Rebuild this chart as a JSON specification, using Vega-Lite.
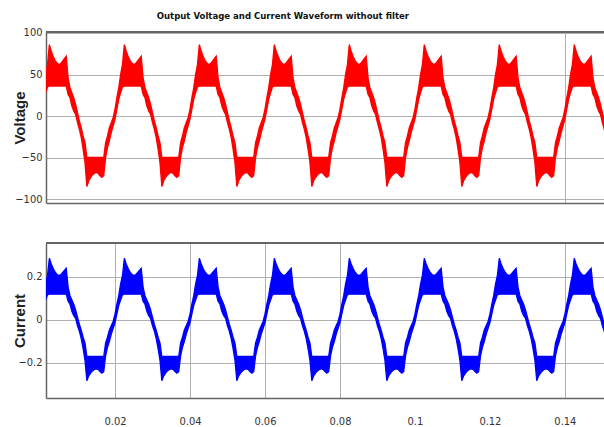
{
"$schema": "https://vega.github.io/schema/vega-lite/v6.json",
"background": "white",
"padding": {"left": 12, "top": 11, "right": 0, "bottom": 0},
"title": {"text": "Output Voltage and Current Waveform without filter", "font": "DejaVu Sans Condensed, Liberation Sans, sans-serif", "fontSize": 9.5, "fontWeight": "bold", "color": "#111", "offset": 6, "anchor": "middle", "dx": -26},
"config": {
  "view": {"stroke": null},
  "axis": {"labelFont": "DejaVu Sans Condensed, Liberation Sans, sans-serif", "labelFontSize": 11, "labelColor": "#333", "ticks": false, "domainColor": "#666", "domainWidth": 1.5, "gridColor": "#b0b0b0", "gridWidth": 1, "format": "~f"}
},
"spacing": 37,
"datasets": {"w": [
{"t":0.0015,"vl":28,"vh":50,"il":0.093,"ih":0.167},
{"t":0.002,"vl":35,"vh":62,"il":0.117,"ih":0.207},
{"t":0.0025,"vl":36,"vh":86,"il":0.12,"ih":0.287},
{"t":0.003,"vl":36,"vh":78,"il":0.12,"ih":0.26},
{"t":0.0035,"vl":36,"vh":72,"il":0.12,"ih":0.24},
{"t":0.004,"vl":36,"vh":67,"il":0.12,"ih":0.223},
{"t":0.0045,"vl":36,"vh":64,"il":0.12,"ih":0.213},
{"t":0.005,"vl":36,"vh":62,"il":0.12,"ih":0.207},
{"t":0.0055,"vl":36,"vh":63,"il":0.12,"ih":0.21},
{"t":0.006,"vl":36,"vh":66,"il":0.12,"ih":0.22},
{"t":0.0065,"vl":36,"vh":69,"il":0.12,"ih":0.23},
{"t":0.007,"vl":36,"vh":72,"il":0.12,"ih":0.24},
{"t":0.0075,"vl":26,"vh":46,"il":0.087,"ih":0.153},
{"t":0.008,"vl":22,"vh":34,"il":0.073,"ih":0.113},
{"t":0.0085,"vl":12,"vh":28,"il":0.04,"ih":0.093},
{"t":0.009,"vl":6,"vh":22,"il":0.02,"ih":0.073},
{"t":0.0095,"vl":2,"vh":14,"il":0.007,"ih":0.047},
{"t":0.01,"vl":-8,"vh":4,"il":-0.027,"ih":0.013},
{"t":0.0105,"vl":-16,"vh":-6,"il":-0.053,"ih":-0.02},
{"t":0.011,"vl":-26,"vh":-14,"il":-0.087,"ih":-0.047},
{"t":0.0115,"vl":-40,"vh":-24,"il":-0.133,"ih":-0.08},
{"t":0.012,"vl":-56,"vh":-32,"il":-0.187,"ih":-0.107},
{"t":0.0125,"vl":-85,"vh":-50,"il":-0.283,"ih":-0.17},
{"t":0.013,"vl":-78,"vh":-50,"il":-0.26,"ih":-0.17},
{"t":0.0135,"vl":-74,"vh":-50,"il":-0.247,"ih":-0.17},
{"t":0.014,"vl":-71,"vh":-50,"il":-0.237,"ih":-0.17},
{"t":0.0145,"vl":-69,"vh":-50,"il":-0.23,"ih":-0.17},
{"t":0.015,"vl":-68,"vh":-50,"il":-0.227,"ih":-0.17},
{"t":0.0155,"vl":-69,"vh":-50,"il":-0.23,"ih":-0.17},
{"t":0.016,"vl":-72,"vh":-50,"il":-0.24,"ih":-0.17},
{"t":0.0165,"vl":-74,"vh":-50,"il":-0.247,"ih":-0.17},
{"t":0.017,"vl":-72,"vh":-50,"il":-0.24,"ih":-0.17},
{"t":0.0175,"vl":-50,"vh":-32,"il":-0.167,"ih":-0.107},
{"t":0.018,"vl":-38,"vh":-24,"il":-0.127,"ih":-0.08},
{"t":0.0185,"vl":-30,"vh":-14,"il":-0.1,"ih":-0.047},
{"t":0.019,"vl":-20,"vh":-8,"il":-0.067,"ih":-0.027},
{"t":0.0195,"vl":-12,"vh":-2,"il":-0.04,"ih":-0.007},
{"t":0.02,"vl":-4,"vh":8,"il":-0.013,"ih":0.027},
{"t":0.0205,"vl":8,"vh":22,"il":0.027,"ih":0.073},
{"t":0.021,"vl":20,"vh":34,"il":0.067,"ih":0.113},
{"t":0.0215,"vl":28,"vh":50,"il":0.093,"ih":0.167},
{"t":0.022,"vl":35,"vh":62,"il":0.117,"ih":0.207},
{"t":0.0225,"vl":36,"vh":86,"il":0.12,"ih":0.287},
{"t":0.023,"vl":36,"vh":78,"il":0.12,"ih":0.26},
{"t":0.0235,"vl":36,"vh":72,"il":0.12,"ih":0.24},
{"t":0.024,"vl":36,"vh":67,"il":0.12,"ih":0.223},
{"t":0.0245,"vl":36,"vh":64,"il":0.12,"ih":0.213},
{"t":0.025,"vl":36,"vh":62,"il":0.12,"ih":0.207},
{"t":0.0255,"vl":36,"vh":63,"il":0.12,"ih":0.21},
{"t":0.026,"vl":36,"vh":66,"il":0.12,"ih":0.22},
{"t":0.0265,"vl":36,"vh":69,"il":0.12,"ih":0.23},
{"t":0.027,"vl":36,"vh":72,"il":0.12,"ih":0.24},
{"t":0.0275,"vl":26,"vh":46,"il":0.087,"ih":0.153},
{"t":0.028,"vl":22,"vh":34,"il":0.073,"ih":0.113},
{"t":0.0285,"vl":12,"vh":28,"il":0.04,"ih":0.093},
{"t":0.029,"vl":6,"vh":22,"il":0.02,"ih":0.073},
{"t":0.0295,"vl":2,"vh":14,"il":0.007,"ih":0.047},
{"t":0.03,"vl":-8,"vh":4,"il":-0.027,"ih":0.013},
{"t":0.0305,"vl":-16,"vh":-6,"il":-0.053,"ih":-0.02},
{"t":0.031,"vl":-26,"vh":-14,"il":-0.087,"ih":-0.047},
{"t":0.0315,"vl":-40,"vh":-24,"il":-0.133,"ih":-0.08},
{"t":0.032,"vl":-56,"vh":-32,"il":-0.187,"ih":-0.107},
{"t":0.0325,"vl":-85,"vh":-50,"il":-0.283,"ih":-0.17},
{"t":0.033,"vl":-78,"vh":-50,"il":-0.26,"ih":-0.17},
{"t":0.0335,"vl":-74,"vh":-50,"il":-0.247,"ih":-0.17},
{"t":0.034,"vl":-71,"vh":-50,"il":-0.237,"ih":-0.17},
{"t":0.0345,"vl":-69,"vh":-50,"il":-0.23,"ih":-0.17},
{"t":0.035,"vl":-68,"vh":-50,"il":-0.227,"ih":-0.17},
{"t":0.0355,"vl":-69,"vh":-50,"il":-0.23,"ih":-0.17},
{"t":0.036,"vl":-72,"vh":-50,"il":-0.24,"ih":-0.17},
{"t":0.0365,"vl":-74,"vh":-50,"il":-0.247,"ih":-0.17},
{"t":0.037,"vl":-72,"vh":-50,"il":-0.24,"ih":-0.17},
{"t":0.0375,"vl":-50,"vh":-32,"il":-0.167,"ih":-0.107},
{"t":0.038,"vl":-38,"vh":-24,"il":-0.127,"ih":-0.08},
{"t":0.0385,"vl":-30,"vh":-14,"il":-0.1,"ih":-0.047},
{"t":0.039,"vl":-20,"vh":-8,"il":-0.067,"ih":-0.027},
{"t":0.0395,"vl":-12,"vh":-2,"il":-0.04,"ih":-0.007},
{"t":0.04,"vl":-4,"vh":8,"il":-0.013,"ih":0.027},
{"t":0.0405,"vl":8,"vh":22,"il":0.027,"ih":0.073},
{"t":0.041,"vl":20,"vh":34,"il":0.067,"ih":0.113},
{"t":0.0415,"vl":28,"vh":50,"il":0.093,"ih":0.167},
{"t":0.042,"vl":35,"vh":62,"il":0.117,"ih":0.207},
{"t":0.0425,"vl":36,"vh":86,"il":0.12,"ih":0.287},
{"t":0.043,"vl":36,"vh":78,"il":0.12,"ih":0.26},
{"t":0.0435,"vl":36,"vh":72,"il":0.12,"ih":0.24},
{"t":0.044,"vl":36,"vh":67,"il":0.12,"ih":0.223},
{"t":0.0445,"vl":36,"vh":64,"il":0.12,"ih":0.213},
{"t":0.045,"vl":36,"vh":62,"il":0.12,"ih":0.207},
{"t":0.0455,"vl":36,"vh":63,"il":0.12,"ih":0.21},
{"t":0.046,"vl":36,"vh":66,"il":0.12,"ih":0.22},
{"t":0.0465,"vl":36,"vh":69,"il":0.12,"ih":0.23},
{"t":0.047,"vl":36,"vh":72,"il":0.12,"ih":0.24},
{"t":0.0475,"vl":26,"vh":46,"il":0.087,"ih":0.153},
{"t":0.048,"vl":22,"vh":34,"il":0.073,"ih":0.113},
{"t":0.0485,"vl":12,"vh":28,"il":0.04,"ih":0.093},
{"t":0.049,"vl":6,"vh":22,"il":0.02,"ih":0.073},
{"t":0.0495,"vl":2,"vh":14,"il":0.007,"ih":0.047},
{"t":0.05,"vl":-8,"vh":4,"il":-0.027,"ih":0.013},
{"t":0.0505,"vl":-16,"vh":-6,"il":-0.053,"ih":-0.02},
{"t":0.051,"vl":-26,"vh":-14,"il":-0.087,"ih":-0.047},
{"t":0.0515,"vl":-40,"vh":-24,"il":-0.133,"ih":-0.08},
{"t":0.052,"vl":-56,"vh":-32,"il":-0.187,"ih":-0.107},
{"t":0.0525,"vl":-85,"vh":-50,"il":-0.283,"ih":-0.17},
{"t":0.053,"vl":-78,"vh":-50,"il":-0.26,"ih":-0.17},
{"t":0.0535,"vl":-74,"vh":-50,"il":-0.247,"ih":-0.17},
{"t":0.054,"vl":-71,"vh":-50,"il":-0.237,"ih":-0.17},
{"t":0.0545,"vl":-69,"vh":-50,"il":-0.23,"ih":-0.17},
{"t":0.055,"vl":-68,"vh":-50,"il":-0.227,"ih":-0.17},
{"t":0.0555,"vl":-69,"vh":-50,"il":-0.23,"ih":-0.17},
{"t":0.056,"vl":-72,"vh":-50,"il":-0.24,"ih":-0.17},
{"t":0.0565,"vl":-74,"vh":-50,"il":-0.247,"ih":-0.17},
{"t":0.057,"vl":-72,"vh":-50,"il":-0.24,"ih":-0.17},
{"t":0.0575,"vl":-50,"vh":-32,"il":-0.167,"ih":-0.107},
{"t":0.058,"vl":-38,"vh":-24,"il":-0.127,"ih":-0.08},
{"t":0.0585,"vl":-30,"vh":-14,"il":-0.1,"ih":-0.047},
{"t":0.059,"vl":-20,"vh":-8,"il":-0.067,"ih":-0.027},
{"t":0.0595,"vl":-12,"vh":-2,"il":-0.04,"ih":-0.007},
{"t":0.06,"vl":-4,"vh":8,"il":-0.013,"ih":0.027},
{"t":0.0605,"vl":8,"vh":22,"il":0.027,"ih":0.073},
{"t":0.061,"vl":20,"vh":34,"il":0.067,"ih":0.113},
{"t":0.0615,"vl":28,"vh":50,"il":0.093,"ih":0.167},
{"t":0.062,"vl":35,"vh":62,"il":0.117,"ih":0.207},
{"t":0.0625,"vl":36,"vh":86,"il":0.12,"ih":0.287},
{"t":0.063,"vl":36,"vh":78,"il":0.12,"ih":0.26},
{"t":0.0635,"vl":36,"vh":72,"il":0.12,"ih":0.24},
{"t":0.064,"vl":36,"vh":67,"il":0.12,"ih":0.223},
{"t":0.0645,"vl":36,"vh":64,"il":0.12,"ih":0.213},
{"t":0.065,"vl":36,"vh":62,"il":0.12,"ih":0.207},
{"t":0.0655,"vl":36,"vh":63,"il":0.12,"ih":0.21},
{"t":0.066,"vl":36,"vh":66,"il":0.12,"ih":0.22},
{"t":0.0665,"vl":36,"vh":69,"il":0.12,"ih":0.23},
{"t":0.067,"vl":36,"vh":72,"il":0.12,"ih":0.24},
{"t":0.0675,"vl":26,"vh":46,"il":0.087,"ih":0.153},
{"t":0.068,"vl":22,"vh":34,"il":0.073,"ih":0.113},
{"t":0.0685,"vl":12,"vh":28,"il":0.04,"ih":0.093},
{"t":0.069,"vl":6,"vh":22,"il":0.02,"ih":0.073},
{"t":0.0695,"vl":2,"vh":14,"il":0.007,"ih":0.047},
{"t":0.07,"vl":-8,"vh":4,"il":-0.027,"ih":0.013},
{"t":0.0705,"vl":-16,"vh":-6,"il":-0.053,"ih":-0.02},
{"t":0.071,"vl":-26,"vh":-14,"il":-0.087,"ih":-0.047},
{"t":0.0715,"vl":-40,"vh":-24,"il":-0.133,"ih":-0.08},
{"t":0.072,"vl":-56,"vh":-32,"il":-0.187,"ih":-0.107},
{"t":0.0725,"vl":-85,"vh":-50,"il":-0.283,"ih":-0.17},
{"t":0.073,"vl":-78,"vh":-50,"il":-0.26,"ih":-0.17},
{"t":0.0735,"vl":-74,"vh":-50,"il":-0.247,"ih":-0.17},
{"t":0.074,"vl":-71,"vh":-50,"il":-0.237,"ih":-0.17},
{"t":0.0745,"vl":-69,"vh":-50,"il":-0.23,"ih":-0.17},
{"t":0.075,"vl":-68,"vh":-50,"il":-0.227,"ih":-0.17},
{"t":0.0755,"vl":-69,"vh":-50,"il":-0.23,"ih":-0.17},
{"t":0.076,"vl":-72,"vh":-50,"il":-0.24,"ih":-0.17},
{"t":0.0765,"vl":-74,"vh":-50,"il":-0.247,"ih":-0.17},
{"t":0.077,"vl":-72,"vh":-50,"il":-0.24,"ih":-0.17},
{"t":0.0775,"vl":-50,"vh":-32,"il":-0.167,"ih":-0.107},
{"t":0.078,"vl":-38,"vh":-24,"il":-0.127,"ih":-0.08},
{"t":0.0785,"vl":-30,"vh":-14,"il":-0.1,"ih":-0.047},
{"t":0.079,"vl":-20,"vh":-8,"il":-0.067,"ih":-0.027},
{"t":0.0795,"vl":-12,"vh":-2,"il":-0.04,"ih":-0.007},
{"t":0.08,"vl":-4,"vh":8,"il":-0.013,"ih":0.027},
{"t":0.0805,"vl":8,"vh":22,"il":0.027,"ih":0.073},
{"t":0.081,"vl":20,"vh":34,"il":0.067,"ih":0.113},
{"t":0.0815,"vl":28,"vh":50,"il":0.093,"ih":0.167},
{"t":0.082,"vl":35,"vh":62,"il":0.117,"ih":0.207},
{"t":0.0825,"vl":36,"vh":86,"il":0.12,"ih":0.287},
{"t":0.083,"vl":36,"vh":78,"il":0.12,"ih":0.26},
{"t":0.0835,"vl":36,"vh":72,"il":0.12,"ih":0.24},
{"t":0.084,"vl":36,"vh":67,"il":0.12,"ih":0.223},
{"t":0.0845,"vl":36,"vh":64,"il":0.12,"ih":0.213},
{"t":0.085,"vl":36,"vh":62,"il":0.12,"ih":0.207},
{"t":0.0855,"vl":36,"vh":63,"il":0.12,"ih":0.21},
{"t":0.086,"vl":36,"vh":66,"il":0.12,"ih":0.22},
{"t":0.0865,"vl":36,"vh":69,"il":0.12,"ih":0.23},
{"t":0.087,"vl":36,"vh":72,"il":0.12,"ih":0.24},
{"t":0.0875,"vl":26,"vh":46,"il":0.087,"ih":0.153},
{"t":0.088,"vl":22,"vh":34,"il":0.073,"ih":0.113},
{"t":0.0885,"vl":12,"vh":28,"il":0.04,"ih":0.093},
{"t":0.089,"vl":6,"vh":22,"il":0.02,"ih":0.073},
{"t":0.0895,"vl":2,"vh":14,"il":0.007,"ih":0.047},
{"t":0.09,"vl":-8,"vh":4,"il":-0.027,"ih":0.013},
{"t":0.0905,"vl":-16,"vh":-6,"il":-0.053,"ih":-0.02},
{"t":0.091,"vl":-26,"vh":-14,"il":-0.087,"ih":-0.047},
{"t":0.0915,"vl":-40,"vh":-24,"il":-0.133,"ih":-0.08},
{"t":0.092,"vl":-56,"vh":-32,"il":-0.187,"ih":-0.107},
{"t":0.0925,"vl":-85,"vh":-50,"il":-0.283,"ih":-0.17},
{"t":0.093,"vl":-78,"vh":-50,"il":-0.26,"ih":-0.17},
{"t":0.0935,"vl":-74,"vh":-50,"il":-0.247,"ih":-0.17},
{"t":0.094,"vl":-71,"vh":-50,"il":-0.237,"ih":-0.17},
{"t":0.0945,"vl":-69,"vh":-50,"il":-0.23,"ih":-0.17},
{"t":0.095,"vl":-68,"vh":-50,"il":-0.227,"ih":-0.17},
{"t":0.0955,"vl":-69,"vh":-50,"il":-0.23,"ih":-0.17},
{"t":0.096,"vl":-72,"vh":-50,"il":-0.24,"ih":-0.17},
{"t":0.0965,"vl":-74,"vh":-50,"il":-0.247,"ih":-0.17},
{"t":0.097,"vl":-72,"vh":-50,"il":-0.24,"ih":-0.17},
{"t":0.0975,"vl":-50,"vh":-32,"il":-0.167,"ih":-0.107},
{"t":0.098,"vl":-38,"vh":-24,"il":-0.127,"ih":-0.08},
{"t":0.0985,"vl":-30,"vh":-14,"il":-0.1,"ih":-0.047},
{"t":0.099,"vl":-20,"vh":-8,"il":-0.067,"ih":-0.027},
{"t":0.0995,"vl":-12,"vh":-2,"il":-0.04,"ih":-0.007},
{"t":0.1,"vl":-4,"vh":8,"il":-0.013,"ih":0.027},
{"t":0.1005,"vl":8,"vh":22,"il":0.027,"ih":0.073},
{"t":0.101,"vl":20,"vh":34,"il":0.067,"ih":0.113},
{"t":0.1015,"vl":28,"vh":50,"il":0.093,"ih":0.167},
{"t":0.102,"vl":35,"vh":62,"il":0.117,"ih":0.207},
{"t":0.1025,"vl":36,"vh":86,"il":0.12,"ih":0.287},
{"t":0.103,"vl":36,"vh":78,"il":0.12,"ih":0.26},
{"t":0.1035,"vl":36,"vh":72,"il":0.12,"ih":0.24},
{"t":0.104,"vl":36,"vh":67,"il":0.12,"ih":0.223},
{"t":0.1045,"vl":36,"vh":64,"il":0.12,"ih":0.213},
{"t":0.105,"vl":36,"vh":62,"il":0.12,"ih":0.207},
{"t":0.1055,"vl":36,"vh":63,"il":0.12,"ih":0.21},
{"t":0.106,"vl":36,"vh":66,"il":0.12,"ih":0.22},
{"t":0.1065,"vl":36,"vh":69,"il":0.12,"ih":0.23},
{"t":0.107,"vl":36,"vh":72,"il":0.12,"ih":0.24},
{"t":0.1075,"vl":26,"vh":46,"il":0.087,"ih":0.153},
{"t":0.108,"vl":22,"vh":34,"il":0.073,"ih":0.113},
{"t":0.1085,"vl":12,"vh":28,"il":0.04,"ih":0.093},
{"t":0.109,"vl":6,"vh":22,"il":0.02,"ih":0.073},
{"t":0.1095,"vl":2,"vh":14,"il":0.007,"ih":0.047},
{"t":0.11,"vl":-8,"vh":4,"il":-0.027,"ih":0.013},
{"t":0.1105,"vl":-16,"vh":-6,"il":-0.053,"ih":-0.02},
{"t":0.111,"vl":-26,"vh":-14,"il":-0.087,"ih":-0.047},
{"t":0.1115,"vl":-40,"vh":-24,"il":-0.133,"ih":-0.08},
{"t":0.112,"vl":-56,"vh":-32,"il":-0.187,"ih":-0.107},
{"t":0.1125,"vl":-85,"vh":-50,"il":-0.283,"ih":-0.17},
{"t":0.113,"vl":-78,"vh":-50,"il":-0.26,"ih":-0.17},
{"t":0.1135,"vl":-74,"vh":-50,"il":-0.247,"ih":-0.17},
{"t":0.114,"vl":-71,"vh":-50,"il":-0.237,"ih":-0.17},
{"t":0.1145,"vl":-69,"vh":-50,"il":-0.23,"ih":-0.17},
{"t":0.115,"vl":-68,"vh":-50,"il":-0.227,"ih":-0.17},
{"t":0.1155,"vl":-69,"vh":-50,"il":-0.23,"ih":-0.17},
{"t":0.116,"vl":-72,"vh":-50,"il":-0.24,"ih":-0.17},
{"t":0.1165,"vl":-74,"vh":-50,"il":-0.247,"ih":-0.17},
{"t":0.117,"vl":-72,"vh":-50,"il":-0.24,"ih":-0.17},
{"t":0.1175,"vl":-50,"vh":-32,"il":-0.167,"ih":-0.107},
{"t":0.118,"vl":-38,"vh":-24,"il":-0.127,"ih":-0.08},
{"t":0.1185,"vl":-30,"vh":-14,"il":-0.1,"ih":-0.047},
{"t":0.119,"vl":-20,"vh":-8,"il":-0.067,"ih":-0.027},
{"t":0.1195,"vl":-12,"vh":-2,"il":-0.04,"ih":-0.007},
{"t":0.12,"vl":-4,"vh":8,"il":-0.013,"ih":0.027},
{"t":0.1205,"vl":8,"vh":22,"il":0.027,"ih":0.073},
{"t":0.121,"vl":20,"vh":34,"il":0.067,"ih":0.113},
{"t":0.1215,"vl":28,"vh":50,"il":0.093,"ih":0.167},
{"t":0.122,"vl":35,"vh":62,"il":0.117,"ih":0.207},
{"t":0.1225,"vl":36,"vh":86,"il":0.12,"ih":0.287},
{"t":0.123,"vl":36,"vh":78,"il":0.12,"ih":0.26},
{"t":0.1235,"vl":36,"vh":72,"il":0.12,"ih":0.24},
{"t":0.124,"vl":36,"vh":67,"il":0.12,"ih":0.223},
{"t":0.1245,"vl":36,"vh":64,"il":0.12,"ih":0.213},
{"t":0.125,"vl":36,"vh":62,"il":0.12,"ih":0.207},
{"t":0.1255,"vl":36,"vh":63,"il":0.12,"ih":0.21},
{"t":0.126,"vl":36,"vh":66,"il":0.12,"ih":0.22},
{"t":0.1265,"vl":36,"vh":69,"il":0.12,"ih":0.23},
{"t":0.127,"vl":36,"vh":72,"il":0.12,"ih":0.24},
{"t":0.1275,"vl":26,"vh":46,"il":0.087,"ih":0.153},
{"t":0.128,"vl":22,"vh":34,"il":0.073,"ih":0.113},
{"t":0.1285,"vl":12,"vh":28,"il":0.04,"ih":0.093},
{"t":0.129,"vl":6,"vh":22,"il":0.02,"ih":0.073},
{"t":0.1295,"vl":2,"vh":14,"il":0.007,"ih":0.047},
{"t":0.13,"vl":-8,"vh":4,"il":-0.027,"ih":0.013},
{"t":0.1305,"vl":-16,"vh":-6,"il":-0.053,"ih":-0.02},
{"t":0.131,"vl":-26,"vh":-14,"il":-0.087,"ih":-0.047},
{"t":0.1315,"vl":-40,"vh":-24,"il":-0.133,"ih":-0.08},
{"t":0.132,"vl":-56,"vh":-32,"il":-0.187,"ih":-0.107},
{"t":0.1325,"vl":-85,"vh":-50,"il":-0.283,"ih":-0.17},
{"t":0.133,"vl":-78,"vh":-50,"il":-0.26,"ih":-0.17},
{"t":0.1335,"vl":-74,"vh":-50,"il":-0.247,"ih":-0.17},
{"t":0.134,"vl":-71,"vh":-50,"il":-0.237,"ih":-0.17},
{"t":0.1345,"vl":-69,"vh":-50,"il":-0.23,"ih":-0.17},
{"t":0.135,"vl":-68,"vh":-50,"il":-0.227,"ih":-0.17},
{"t":0.1355,"vl":-69,"vh":-50,"il":-0.23,"ih":-0.17},
{"t":0.136,"vl":-72,"vh":-50,"il":-0.24,"ih":-0.17},
{"t":0.1365,"vl":-74,"vh":-50,"il":-0.247,"ih":-0.17},
{"t":0.137,"vl":-72,"vh":-50,"il":-0.24,"ih":-0.17},
{"t":0.1375,"vl":-50,"vh":-32,"il":-0.167,"ih":-0.107},
{"t":0.138,"vl":-38,"vh":-24,"il":-0.127,"ih":-0.08},
{"t":0.1385,"vl":-30,"vh":-14,"il":-0.1,"ih":-0.047},
{"t":0.139,"vl":-20,"vh":-8,"il":-0.067,"ih":-0.027},
{"t":0.1395,"vl":-12,"vh":-2,"il":-0.04,"ih":-0.007},
{"t":0.14,"vl":-4,"vh":8,"il":-0.013,"ih":0.027},
{"t":0.1405,"vl":8,"vh":22,"il":0.027,"ih":0.073},
{"t":0.141,"vl":20,"vh":34,"il":0.067,"ih":0.113},
{"t":0.1415,"vl":28,"vh":50,"il":0.093,"ih":0.167},
{"t":0.142,"vl":35,"vh":62,"il":0.117,"ih":0.207},
{"t":0.1425,"vl":36,"vh":86,"il":0.12,"ih":0.287},
{"t":0.143,"vl":36,"vh":78,"il":0.12,"ih":0.26},
{"t":0.1435,"vl":36,"vh":72,"il":0.12,"ih":0.24},
{"t":0.144,"vl":36,"vh":67,"il":0.12,"ih":0.223},
{"t":0.1445,"vl":36,"vh":64,"il":0.12,"ih":0.213},
{"t":0.145,"vl":36,"vh":62,"il":0.12,"ih":0.207},
{"t":0.1455,"vl":36,"vh":63,"il":0.12,"ih":0.21},
{"t":0.146,"vl":36,"vh":66,"il":0.12,"ih":0.22},
{"t":0.1465,"vl":36,"vh":69,"il":0.12,"ih":0.23},
{"t":0.147,"vl":36,"vh":72,"il":0.12,"ih":0.24},
{"t":0.1475,"vl":26,"vh":46,"il":0.087,"ih":0.153},
{"t":0.148,"vl":22,"vh":34,"il":0.073,"ih":0.113},
{"t":0.1485,"vl":12,"vh":28,"il":0.04,"ih":0.093},
{"t":0.149,"vl":6,"vh":22,"il":0.02,"ih":0.073},
{"t":0.1495,"vl":2,"vh":14,"il":0.007,"ih":0.047},
{"t":0.15,"vl":-8,"vh":4,"il":-0.027,"ih":0.013},
{"t":0.1505,"vl":-16,"vh":-6,"il":-0.053,"ih":-0.02},
{"t":0.151,"vl":-26,"vh":-14,"il":-0.087,"ih":-0.047}
]},
"vconcat": [
{
  "width": 559, "height": 171,
  "data": {"name": "w"},
  "layer": [
    {"mark": {"type": "area", "color": "#ff0000", "stroke": "#ff0000", "strokeWidth": 1.3, "clip": true},
     "encoding": {
       "x": {"field": "t", "type": "quantitative", "scale": {"domain": [0.0016, 0.1507], "nice": false, "zero": false},
             "axis": {"values": [0.14], "labels": false, "title": null}},
       "y": {"field": "vl", "type": "quantitative", "scale": {"domain": [-104.8, 101.2], "nice": false, "zero": false},
             "axis": {"values": [-100, -50, 0, 50, 100], "title": "Voltage", "titleFont": "Liberation Sans", "titleFontSize": 15, "titleFontWeight": "bold", "titleColor": "#222", "titleX": -27, "titleBaseline": "middle", "labelPadding": 4}},
       "y2": {"field": "vh"}
     }},
    {"mark": {"type": "rule", "color": "#666", "strokeWidth": 1.5}, "encoding": {"y": {"datum": 101.2}}}
  ]
},
{
  "width": 559, "height": 155,
  "data": {"name": "w"},
  "layer": [
    {"mark": {"type": "area", "color": "#0000ff", "stroke": "#0000ff", "strokeWidth": 1.3, "clip": true},
     "encoding": {
       "x": {"field": "t", "type": "quantitative", "scale": {"domain": [0.0016, 0.1507], "nice": false, "zero": false},
             "axis": {"values": [0.02, 0.04, 0.06, 0.08, 0.1, 0.12, 0.14], "title": null, "labelPadding": 17,
                      "gridOpacity": {"condition": {"test": "datum.value > 0.09 && datum.value < 0.13", "value": 0}, "value": 1}}},
       "y": {"field": "il", "type": "quantitative", "scale": {"domain": [-0.363, 0.358], "nice": false, "zero": false},
             "axis": {"values": [-0.2, 0, 0.2], "title": "Current", "titleFont": "Liberation Sans", "titleFontSize": 15, "titleFontWeight": "bold", "titleColor": "#222", "titleX": -27, "titleBaseline": "middle", "labelPadding": 4}},
       "y2": {"field": "ih"}
     }},
    {"mark": {"type": "rule", "color": "#666", "strokeWidth": 1.5}, "encoding": {"y": {"datum": 0.358}}}
  ]
}
]
}
